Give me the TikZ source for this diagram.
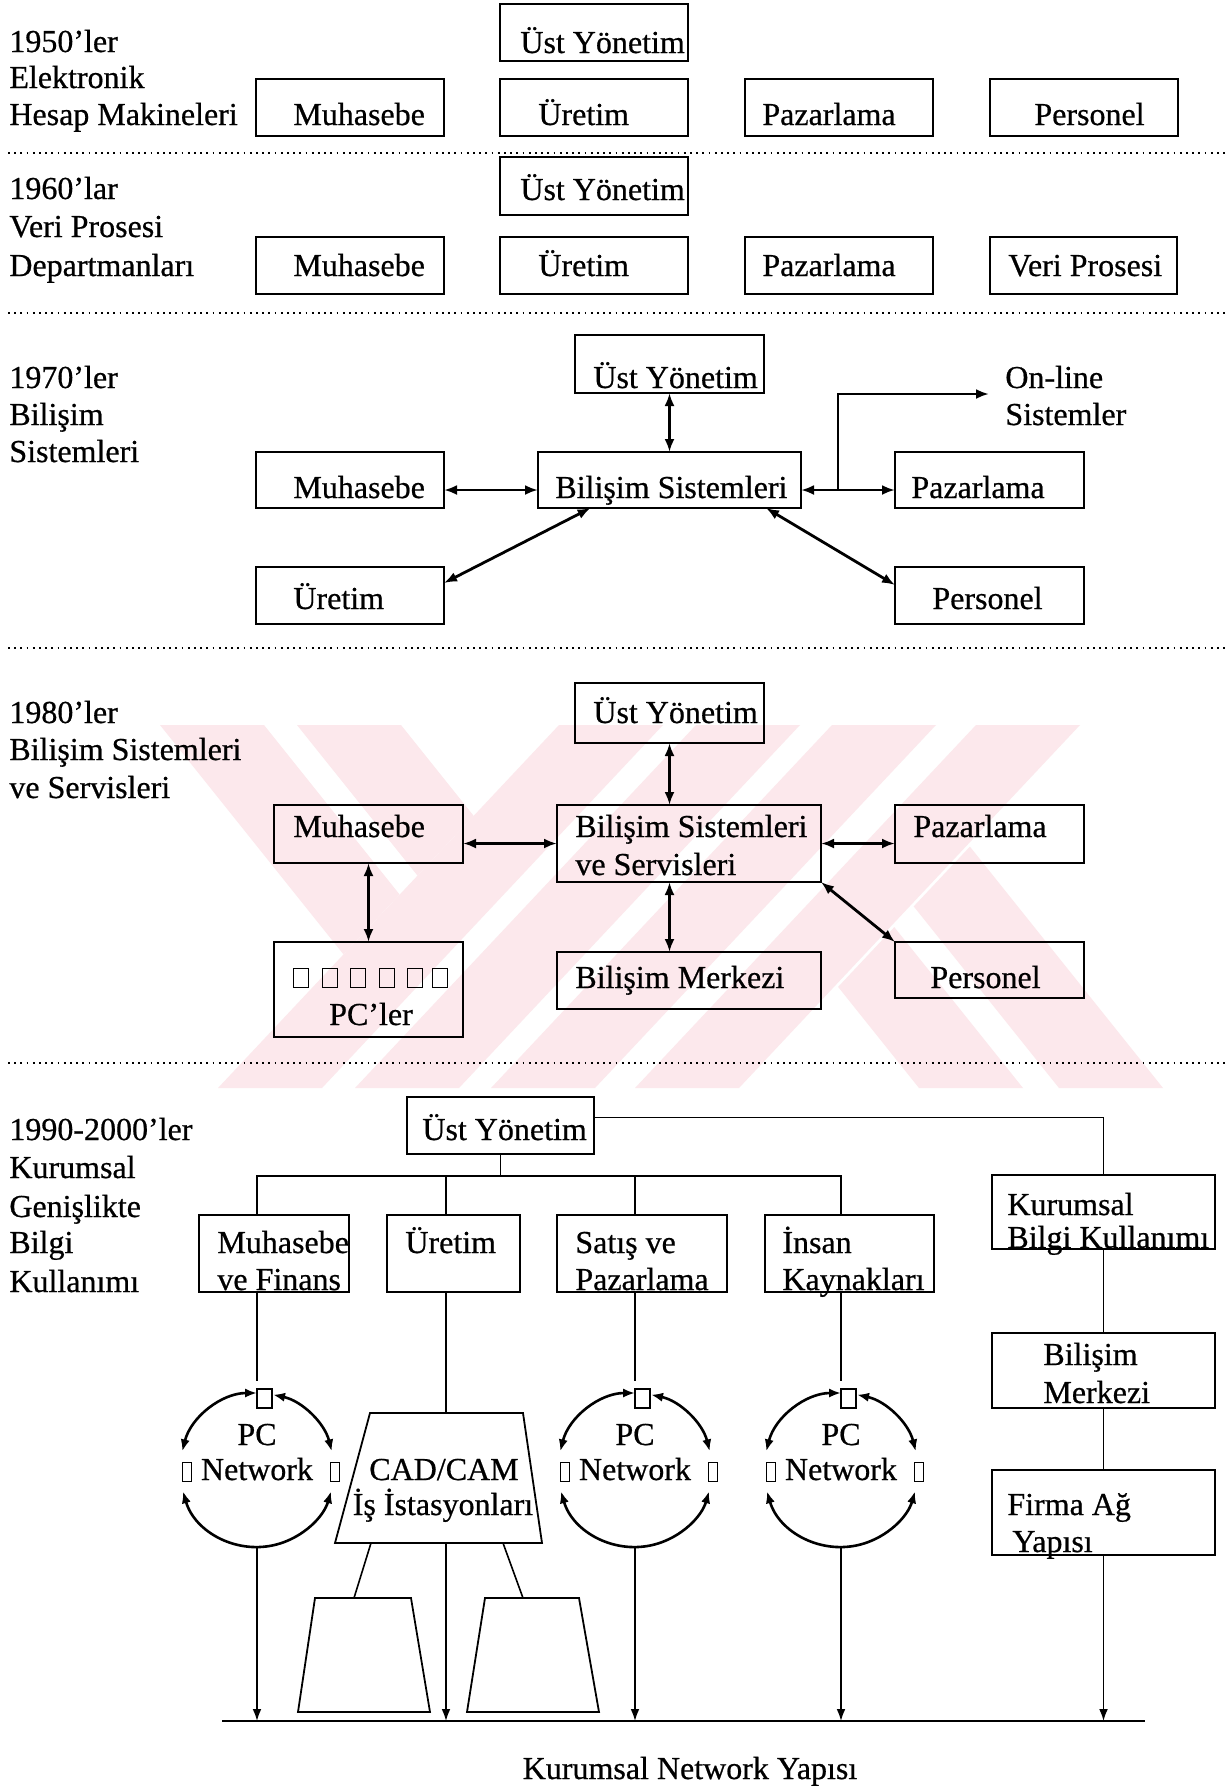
\documentclass[tikz,border=0pt]{standalone}
\usepackage{fontspec}
\setmainfont{Liberation Serif}[FakeBold=0.6]
\usetikzlibrary{arrows.meta,fit,calc}
\definecolor{wmpink}{RGB}{252,232,236}

\begin{document}
\begin{tikzpicture}[x=0.5pt,y=-0.5pt,
  box/.style={draw,line width=1.1pt,inner sep=0pt,outer sep=0pt},
  tx/.style={inner sep=0pt,anchor=base west,font=\fontsize{16}{19}\selectfont},
  txc/.style={tx,anchor=base},
  link/.style={line width=1.4pt,{Latex[length=6.5pt,width=5pt]}-{Latex[length=6.5pt,width=5pt]}},
  ring/.style={line width=1.3pt,{Latex[length=6pt,width=4.6pt]}-{Latex[length=6pt,width=4.6pt]}},
  tree/.style={line width=0.8pt},
  down/.style={line width=0.8pt,-{Latex[length=6pt,width=4.4pt]}},
  sep/.style={line width=1pt,dash pattern=on 0.9pt off 2.2pt},
  pcbox/.style={draw,line width=0.6pt,inner sep=0pt,outer sep=0pt,minimum height=9.5pt},
]
\fill[white] (0,0) rectangle (1226,1789);
\useasboundingbox (0,0) rectangle (1226,1789);

% faint background emblem: slanted stems with short arms
\foreach \b in {218,355,491,635}{
  \fill[wmpink] (\b+341,725) -- (\b+445,725) -- (\b+104,1088) -- (\b,1088) -- cycle;}
\fill[wmpink] (160,725) -- (264,725) -- (399.6,894.5) -- (343.4,954.3) -- cycle;
\fill[wmpink] (297,725) -- (401,725) -- (473.6,815.8) -- (417.5,875.6) -- cycle;
\fill[wmpink] (919,1088) -- (1023,1088) -- (894.3,927.1) -- (838.1,986.9) -- cycle;
\fill[wmpink] (1059,1088) -- (1163,1088) -- (969.9,846.6) -- (913.7,906.4) -- cycle;

% ---------- separators ----------
\draw[sep] (8,153) -- (1226,153);
\draw[sep] (8,313) -- (1226,313);
\draw[sep] (8,648) -- (1226,648);
\draw[sep] (8,1063) -- (1226,1063);

% ---------- 1950s ----------
\node[tx] (l1a) at (9,52) {1950’ler};
\node[tx] (l1b) at (9,88) {Elektronik};
\node[tx] (l1c) at (9,125) {Hesap Makineleri};
\node[box,fit={(500,4)(688,61)}] (a1) {};
\node[tx] (a1t) at (520,53) {Üst Yönetim};
\node[box,fit={(256,79)(444,136)}] (a2) {};
\node[tx] (a2t) at (293,125) {Muhasebe};
\node[box,fit={(500,79)(688,136)}] (a3) {};
\node[tx] (a3t) at (538,125) {Üretim};
\node[box,fit={(745,79)(933,136)}] (a4) {};
\node[tx] (a4t) at (762,125) {Pazarlama};
\node[box,fit={(990,79)(1178,136)}] (a5) {};
\node[tx] (a5t) at (1034,125) {Personel};

% ---------- 1960s ----------
\node[tx] (l2a) at (9,199) {1960’lar};
\node[tx] (l2b) at (9,237) {Veri Prosesi};
\node[tx] (l2c) at (9,276) {Departmanları};
\node[box,fit={(500,157)(688,215)}] (b1) {};
\node[tx] (b1t) at (520,200) {Üst Yönetim};
\node[box,fit={(256,237)(444,294)}] (b2) {};
\node[tx] (b2t) at (293,276) {Muhasebe};
\node[box,fit={(500,237)(688,294)}] (b3) {};
\node[tx] (b3t) at (538,276) {Üretim};
\node[box,fit={(745,237)(933,294)}] (b4) {};
\node[tx] (b4t) at (762,276) {Pazarlama};
\node[box,fit={(990,237)(1177,294)}] (b5) {};
\node[tx] (b5t) at (1008,276) {Veri Prosesi};

% ---------- 1970s ----------
\node[tx] (l3a) at (9,388) {1970’ler};
\node[tx] (l3b) at (9,425) {Bilişim};
\node[tx] (l3c) at (9,462) {Sistemleri};
\node[box,fit={(575,335)(764,393)}] (c1) {};
\node[tx] (c1t) at (593,388) {Üst Yönetim};
\node[box,fit={(538,452)(801,508)}] (c2) {};
\node[tx] (c2t) at (555,498) {Bilişim Sistemleri};
\node[box,fit={(256,452)(444,508)}] (c3) {};
\node[tx] (c3t) at (293,498) {Muhasebe};
\node[box,fit={(895,452)(1084,508)}] (c4) {};
\node[tx] (c4t) at (911,498) {Pazarlama};
\node[box,fit={(256,567)(444,624)}] (c5) {};
\node[tx] (c5t) at (293,609) {Üretim};
\node[box,fit={(895,567)(1084,624)}] (c6) {};
\node[tx] (c6t) at (932,609) {Personel};
\node[tx] (c7a) at (1005,388) {On-line};
\node[tx] (c7b) at (1005,425) {Sistemler};
\coordinate (olj) at (838,490);
\coordinate (olend) at (989,394);

\draw[link] (c1.south) -- (c2.north);
\draw[link] ([yshift=-5pt]c3.east) -- ([yshift=-5pt]c2.west);
\draw[link] ([yshift=-5pt]c2.east) -- ([yshift=-5pt]c4.west);
\draw[line width=1.4pt,-{Latex[length=6.5pt,width=5pt]}] (olj) |- (olend);
\draw[link] ([yshift=-8pt]c5.north east) -- ($(c2.south west)!0.2!(c2.south east)$);
\draw[link] ($(c2.south west)!0.867!(c2.south east)$) -- ([yshift=-9pt]c6.north west);

% ---------- 1980s ----------
\node[tx] (l4a) at (9,723) {1980’ler};
\node[tx] (l4b) at (9,760) {Bilişim Sistemleri};
\node[tx] (l4c) at (9,798) {ve Servisleri};
\node[box,fit={(575,683)(764,743)}] (d1) {};
\node[tx] (d1t) at (593,723) {Üst Yönetim};
\node[box,fit={(557,805)(821,882)}] (d2) {};
\node[tx] (d2a) at (575,837) {Bilişim Sistemleri};
\node[tx] (d2b) at (575,875) {ve Servisleri};
\node[box,fit={(274,805)(463,863)}] (d3) {};
\node[tx] (d3t) at (293,837) {Muhasebe};
\node[box,fit={(895,805)(1084,863)}] (d4) {};
\node[tx] (d4t) at (913,837) {Pazarlama};
\node[box,fit={(274,942)(463,1037)}] (d5) {};
\foreach \k/\x in {1/301,2/330,3/358,4/387,5/415,6/440}
  \node[pcbox,minimum width=7.5pt] (pc\k) at (\x,978) {};
\node[txc] (d5t) at (371,1025) {PC’ler};
\node[box,fit={(557,952)(821,1009)}] (d6) {};
\node[tx] (d6t) at (575,988) {Bilişim Merkezi};
\node[box,fit={(895,942)(1084,998)}] (d7) {};
\node[tx] (d7t) at (930,988) {Personel};

\draw[link] (d1.south) -- (d1.south |- d2.north);
\draw[link] (d3.east |- d2.west) -- (d2.west);
\draw[link] (d2.east) -- (d2.east -| d4.west);
\draw[link] (d3.south) -- (d5.north);
\draw[link] (d1.south |- d2.south) -- (d1.south |- d6.north);
\draw[link] (d2.south east) -- (d7.north west);

% ---------- 1990s - 2000s ----------
\node[tx] (l5a) at (9,1140) {1990-2000’ler};
\node[tx] (l5b) at (9,1178) {Kurumsal};
\node[tx] (l5c) at (9,1217) {Genişlikte};
\node[tx] (l5d) at (9,1253) {Bilgi};
\node[tx] (l5e) at (9,1292) {Kullanımı};

\node[box,fit={(407,1097)(594,1154)}] (e1) {};
\node[tx] (e1t) at (422,1140) {Üst Yönetim};
\node[box,fit={(199,1215)(349,1292)}] (e2) {};
\node[tx] (e2a) at (217,1253) {Muhasebe};
\node[tx] (e2b) at (217,1290) {ve Finans};
\node[box,fit={(387,1215)(520,1292)}] (e3) {};
\node[tx] (e3t) at (405,1253) {Üretim};
\node[box,fit={(557,1215)(727,1292)}] (e4) {};
\node[tx] (e4a) at (575,1253) {Satış ve};
\node[tx] (e4b) at (575,1290) {Pazarlama};
\node[box,fit={(765,1215)(934,1292)}] (e5) {};
\node[tx] (e5a) at (782,1253) {İnsan};
\node[tx] (e5b) at (782,1290) {Kaynakları};
\node[box,fit={(992,1175)(1215,1249)}] (e6) {};
\node[tx] (e6a) at (1007,1215) {Kurumsal};
\node[tx] (e6b) at (1007,1248) {Bilgi Kullanımı};
\node[box,fit={(992,1333)(1215,1408)}] (e7) {};
\node[tx] (e7a) at (1043,1365) {Bilişim};
\node[tx] (e7b) at (1043,1403) {Merkezi};
\node[box,fit={(992,1470)(1215,1555)}] (e8) {};
\node[tx] (e8a) at (1007,1515) {Firma Ağ};
\node[tx] (e8b) at (1012,1552) {Yapısı};

\coordinate (hb) at (0,1176);
\coordinate (bus) at (0,1721);
\coordinate (n1) at (257,1470);
\coordinate (n2) at (635,1470);
\coordinate (n3) at (841,1470);
\coordinate (cadtop) at (446,1413);
\coordinate (cadbot) at (446,1543);

% organisation tree
\draw[tree] (e1.south) -- (e1.south |- hb);
\draw[tree] (e2.north -| n1) -- (n1 |- hb) -- (n3 |- hb) -- (e5.north -| n3);
\draw[tree] (e3.north -| cadtop) -- (cadtop |- hb);
\draw[tree] (e4.north -| n2) -- (n2 |- hb);
\draw[tree] ([yshift=4pt]e1.east) -| (e6.north);
\draw[tree] (e6.south) -- (e7.north);
\draw[tree] (e7.south) -- (e8.north);
\draw[down] (e8.south) -- (e8.south |- bus);

% PC networks
\foreach \i in {1,2,3}{
  \node[pcbox,minimum width=7.5pt,anchor=north west] (q\i) at ([yshift=-1pt]n\i |- 0,1387) {};
  \node[pcbox,minimum width=4.5pt] (ql\i) at ([xshift=-35pt,yshift=-1pt]n\i) {};
  \node[pcbox,minimum width=4.5pt] (qr\i) at ([xshift=39pt,yshift=-1pt]n\i) {};
  \node[txc] (pct\i) at ([yshift=12.5pt]n\i) {PC};
  \node[txc] (nwt\i) at ([yshift=-5pt]n\i) {Network};
  \draw[ring] ([shift={(90:38.5pt)}]n\i) arc[start angle=90,end angle=166,radius=38.5pt];
  \draw[ring] ([shift={(78:38.5pt)}]n\i) arc[start angle=78,end angle=14,radius=38.5pt];
  \draw[ring] ([shift={(196:38.5pt)}]n\i) arc[start angle=196,end angle=344,radius=38.5pt];
  \draw[down] ([shift={(270:38.5pt)}]n\i) -- (n\i |- bus);
}
\draw[tree] (e2.south -| n1) -- ([yshift=4pt]q1.north west);
\draw[tree] (e4.south -| n2) -- ([yshift=4pt]q2.north west);
\draw[tree] (e5.south -| n3) -- ([yshift=4pt]q3.north west);

% CAD/CAM workstations
\draw[tree] (e3.south -| cadtop) -- (cadtop);
\draw[line width=0.9pt] (370,1413) -- (523,1413) -- (542,1543) -- (335,1543) -- cycle;
\node[txc] (cad1) at (444,1480) {CAD/CAM};
\node[txc] (cad2) at (443,1515) {İş İstasyonları};
\draw[down] (cadbot) -- (cadbot |- bus);
\coordinate (w1) at (363,1598);
\coordinate (w2) at (532,1598);
\draw[tree] (371,1543) -- (w1 -| 354,0);
\draw[tree] (503,1543) -- (w2 -| 523,0);
\draw[line width=0.9pt] (315,1598) -- (411,1598) -- (430,1712) -- (298,1712) -- cycle;
\draw[line width=0.9pt] (485,1598) -- (579,1598) -- (599,1712) -- (467,1712) -- cycle;

% network backbone
\draw[line width=1.3pt] (222,1721) -- (1145,1721);
\node[txc] (cap) at (690,1779) {Kurumsal Network Yapısı};
\end{tikzpicture}
\end{document}
